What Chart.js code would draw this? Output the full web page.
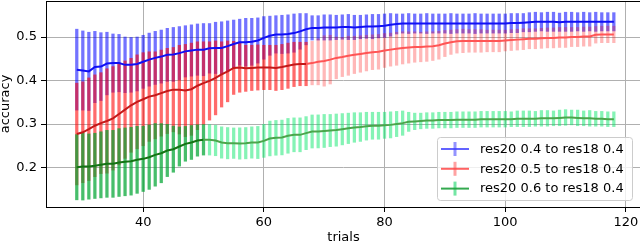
<!DOCTYPE html>
<html><head><meta charset="utf-8">
<script src="https://cdn.jsdelivr.net/npm/chart.js@4"></script>
<style>
html,body{margin:0;padding:0;overflow:hidden;background:#fff}
#wrap{width:660px;height:246px;position:relative}
</style></head>
<body><div id="wrap"><canvas id="c" width="660" height="246"></canvas></div>
<script>
const trials = [29,30,31,32,33,34,35,36,37,38,39,40,41,42,43,44,45,46,47,48,49,50,51,52,53,54,55,56,57,58,59,60,61,62,63,64,65,66,67,68,69,70,71,72,73,74,75,76,77,78,79,80,81,82,83,84,85,86,87,88,89,90,91,92,93,94,95,96,97,98,99,100,101,102,103,104,105,106,107,108,109,110,111,112,113,114,115,116,117,118];

const seriesLabels = ['res20 0.4 to res18 0.4','res20 0.5 to res18 0.4','res20 0.6 to res18 0.4'];

const blueMean = [.425,.423,.421,.431,.432,.439,.440,.440,.436,.436,.438,.443,.448,.452,.455,.459,.460,.463,.467,.469,.471,.471,.474,.475,.475,.479,.484,.488,.488,.489,.492,.498,.503,.506,.506,.507,.509,.513,.518,.521,.521,.522,.522,.522,.523,.523,.522,.523,.524,.524,.525,.526,.528,.530,.531,.531,.531,.531,.531,.531,.531,.531,.531,.531,.531,.531,.531,.531,.531,.531,.531,.531,.532,.532,.533,.534,.535,.535,.535,.535,.534,.535,.535,.535,.535,.535,.535,.535,.535,.535];
const blueStd = [.093,.091,.090,.082,.078,.072,.067,.066,.064,.063,.062,.061,.061,.061,.061,.061,.062,.061,.059,.059,.059,.060,.057,.059,.060,.058,.055,.053,.055,.054,.052,.049,.045,.043,.044,.044,.044,.041,.036,.028,.028,.029,.029,.028,.028,.029,.028,.027,.027,.028,.027,.027,.026,.023,.022,.023,.022,.022,.023,.022,.022,.022,.023,.022,.022,.022,.023,.022,.022,.022,.022,.022,.022,.022,.021,.022,.022,.021,.022,.022,.021,.022,.022,.021,.022,.021,.022,.021,.021,.021];

const redMean = [.277,.281,.288,.296,.302,.307,.313,.323,.333,.343,.351,.357,.363,.366,.371,.376,.379,.379,.377,.380,.388,.394,.399,.406,.414,.421,.429,.430,.428,.429,.430,.430,.430,.429,.431,.434,.437,.438,.438,.440,.443,.445,.448,.452,.454,.457,.459,.461,.463,.465,.466,.469,.471,.473,.475,.476,.477,.477,.478,.479,.481,.485,.488,.490,.491,.491,.491,.491,.491,.491,.491,.492,.493,.494,.495,.496,.496,.497,.498,.498,.499,.499,.500,.500,.501,.501,.505,.506,.506,.506];
const redStd = [.117,.116,.118,.117,.116,.120,.119,.117,.112,.108,.108,.107,.103,.100,.099,.098,.097,.102,.106,.106,.101,.095,.090,.085,.075,.070,.061,.057,.053,.052,.052,.051,.051,.052,.052,.052,.051,.050,.050,.050,.053,.058,.056,.048,.045,.045,.043,.042,.041,.040,.040,.039,.038,.038,.037,.036,.035,.034,.034,.033,.032,.030,.028,.027,.027,.026,.026,.026,.025,.025,.025,.024,.024,.024,.024,.023,.023,.023,.023,.023,.023,.023,.022,.022,.022,.022,.019,.019,.019,.019];

const greenMean = [.2007,.2022,.2022,.2038,.2061,.2084,.2084,.2114,.2130,.2145,.2176,.2199,.2237,.2291,.2329,.2391,.2421,.2483,.2544,.2575,.2621,.2636,.2636,.2621,.2575,.2559,.2559,.2552,.2559,.2575,.2575,.2613,.2667,.2682,.2690,.2728,.2751,.2751,.2790,.2828,.283,.284,.285,.286,.288,.290,.292,.293,.295,.296,.296,.297,.298,.300,.302,.305,.306,.307,.308,.308,.309,.309,.309,.310,.310,.310,.310,.311,.311,.311,.311,.311,.311,.312,.312,.312,.312,.313,.313,.313,.314,.315,.315,.314,.313,.313,.312,.312,.311,.311];
const greenStd = [.075,.077,.075,.075,.076,.077,.077,.078,.078,.078,.077,.075,.074,.072,.068,.060,.053,.045,.040,.039,.036,.035,.035,.035,.036,.036,.035,.036,.036,.036,.037,.038,.040,.040,.040,.040,.039,.039,.038,.038,.038,.038,.037,.037,.036,.035,.034,.033,.032,.031,.031,.030,.030,.029,.028,.022,.019,.018,.018,.018,.018,.018,.018,.018,.018,.018,.018,.018,.018,.018,.018,.018,.017,.018,.018,.018,.017,.018,.018,.017,.018,.018,.017,.018,.017,.018,.017,.017,.017,.017];

const xTicks = [40,60,80,100,120];
const yTicks = [0.2,0.3,0.4,0.5];
const redStrongUntil = 67;
const greenStrongUntil = 50;

const FONT = 'DejaVu Sans';

function bars(mean, std){ return trials.map((t,i)=>({x:t, y:[mean[i]-std[i], mean[i]+std[i]]})); }
function line(mean){ return trials.map((t,i)=>({x:t, y:mean[i]})); }

const frame = {
  id:'frame',
  afterDatasetsDraw(chart){
    const {ctx, chartArea:a} = chart;
    ctx.save();
    ctx.strokeStyle = '#000'; ctx.lineWidth = 1;
    ctx.strokeRect(Math.round(a.left)+0.5, Math.round(a.top)+0.5, Math.round(a.right-a.left), Math.round(a.bottom-a.top));
    ctx.restore();
  }
};

const legendColors = [
  {line:'rgba(60,60,255,0.8)', tick:'rgba(60,60,255,0.55)'},
  {line:'rgba(255,70,70,0.85)', tick:'rgba(255,70,70,0.5)'},
  {line:'rgba(30,160,60,0.9)', tick:'rgba(0,210,90,0.55)'}
];
const boxLegend = {
  id:'boxLegend',
  afterDraw(chart){
    const ctx = chart.ctx;
    ctx.save();
    const bx=437.5, by=137.5, bw=195, bh=63, r=3;
    ctx.beginPath();
    ctx.moveTo(bx+r,by); ctx.lineTo(bx+bw-r,by); ctx.arcTo(bx+bw,by,bx+bw,by+r,r);
    ctx.lineTo(bx+bw,by+bh-r); ctx.arcTo(bx+bw,by+bh,bx+bw-r,by+bh,r);
    ctx.lineTo(bx+r,by+bh); ctx.arcTo(bx,by+bh,bx,by+bh-r,r);
    ctx.lineTo(bx,by+r); ctx.arcTo(bx,by,bx+r,by,r); ctx.closePath();
    ctx.fillStyle='rgba(255,255,255,0.8)'; ctx.fill();
    ctx.strokeStyle='#cccccc'; ctx.lineWidth=1; ctx.stroke();
    ctx.font = '13px "'+FONT+'"';
    ctx.textBaseline='middle'; ctx.textAlign='left';
    seriesLabels.forEach((lab,i)=>{
      const y = 149 + i*19.8;
      ctx.strokeStyle = legendColors[i].tick; ctx.lineWidth = 3;
      ctx.beginPath(); ctx.moveTo(455, y-7); ctx.lineTo(455, y+7); ctx.stroke();
      ctx.strokeStyle = legendColors[i].line; ctx.lineWidth = 2;
      ctx.beginPath(); ctx.moveTo(441, y); ctx.lineTo(469, y); ctx.stroke();
      ctx.fillStyle = '#000';
      ctx.fillText(lab, 480, y+0.5);
    });
    ctx.restore();
  }
};

const barCommon = {type:'bar', barThickness:2.6, grouped:false, borderWidth:0, borderSkipped:false};

function noPad(s){ s.paddingTop = 0; s.paddingBottom = 0; s.paddingLeft = 0; s.paddingRight = 0; }

new Chart(document.getElementById('c'), {
  type:'bar',
  data:{datasets:[
    Object.assign({}, barCommon, {label:seriesLabels[0], data:bars(blueMean,blueStd), backgroundColor:'rgba(0,0,255,0.55)', order:6}),
    Object.assign({}, barCommon, {label:seriesLabels[1], data:bars(redMean,redStd),
      backgroundColor: trials.map(t=> t<=redStrongUntil ? 'rgba(255,0,0,0.58)' : 'rgba(255,0,0,0.28)'), order:5}),
    Object.assign({}, barCommon, {label:seriesLabels[2], data:bars(greenMean,greenStd),
      backgroundColor: trials.map(t=> t<=greenStrongUntil ? 'rgba(0,165,50,0.72)' : 'rgba(0,230,100,0.48)'), order:4}),
    {type:'line', label:seriesLabels[0], data:line(blueMean), borderColor:'rgb(15,15,245)', borderWidth:2, pointRadius:0, tension:0, order:3},
    {type:'line', label:seriesLabels[1], data:line(redMean), borderWidth:2, pointRadius:0, tension:0, order:2,
      borderColor:'rgb(255,80,80)',
      segment:{borderColor: c => trials[c.p1DataIndex] <= redStrongUntil ? 'rgb(195,25,25)' : 'rgb(255,85,85)'}},
    {type:'line', label:seriesLabels[2], data:line(greenMean), borderWidth:2, pointRadius:0, tension:0, order:1,
      borderColor:'rgb(70,165,70)',
      segment:{borderColor: c => trials[c.p1DataIndex] <= greenStrongUntil ? 'rgb(20,115,20)' : 'rgb(75,165,75)'}}
  ]},
  options:{
    responsive:false, animation:false, devicePixelRatio:1,
    layout:{padding:{left:0, top:1, right:19, bottom:0}},
    plugins:{legend:{display:false}, tooltip:{enabled:false}},
    scales:{
      x:{type:'linear', min:23.9, max:122.5, offset:false,
        afterBuildTicks: ax => { ax.ticks = xTicks.map(v=>({value:v})); },
        afterFit: s => { s.height = 39; noPad(s); },
        grid:{color:'#b0b0b0', lineWidth:1, offset:false, tickColor:'#000', tickLength:5},
        border:{display:false},
        ticks:{color:'#000', font:{family:FONT, size:13}, padding:3, maxRotation:0, autoSkip:false, callback:v=>String(v)},
        title:{display:true, text:'trials', color:'#000', font:{family:FONT, size:13, lineHeight:1}, padding:{top:0, bottom:2}}
      },
      y:{type:'linear', min:0.1092, max:0.5828,
        afterBuildTicks: ax => { ax.ticks = yTicks.map(v=>({value:v})); },
        afterFit: s => { s.width = 46; noPad(s); },
        grid:{color:'#b0b0b0', lineWidth:1, tickColor:'#000', tickLength:5},
        border:{display:false},
        ticks:{color:'#000', font:{family:FONT, size:13}, padding:4, autoSkip:false, callback:v=>v.toFixed(1)},
        title:{display:true, text:'accuracy', color:'#000', font:{family:FONT, size:13, lineHeight:1}, padding:{top:-1, bottom:0}}
      }
    }
  },
  plugins:[frame, boxLegend]
});
</script>
</body></html>
